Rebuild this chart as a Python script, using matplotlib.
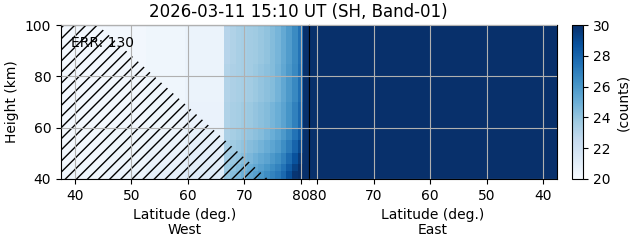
import numpy as np
import matplotlib
matplotlib.use('Agg')
import matplotlib.pyplot as plt

# West side: column edges (deg) and height band edges (km)
west_lat_edges = [37.5, 45.5, 52.5, 59.5, 66.5, 67.5, 68.5, 69.5, 70.5, 71.5,
                  72.5, 73.5, 74.5, 75.5, 76.5, 77.5, 78.5, 79.5, 80.5, 81.5]
height_edges = [40, 43, 46, 50, 55, 60, 70, 85, 100]

# counts, rows = height bands (bottom to top), columns = latitude cells
west_counts = [
    [20.4, 20.6, 20.9, 21.3, 24.0, 24.3, 24.6, 25.0, 25.3, 25.6, 26.0, 26.4, 26.8, 27.2, 27.8, 28.8, 29.8, 30.5, 31.0],
    [20.4, 20.5, 20.8, 21.1, 23.8, 24.1, 24.4, 24.7, 25.0, 25.3, 25.6, 26.0, 26.4, 26.8, 27.4, 28.3, 29.3, 30.2, 31.0],
    [20.3, 20.5, 20.7, 21.0, 23.6, 23.9, 24.1, 24.4, 24.6, 24.9, 25.2, 25.5, 25.9, 26.3, 26.9, 27.7, 28.7, 29.6, 31.0],
    [20.3, 20.4, 20.6, 20.9, 23.4, 23.7, 23.9, 24.1, 24.3, 24.5, 24.8, 25.1, 25.4, 25.8, 26.4, 27.1, 28.0, 29.0, 31.0],
    [20.3, 20.4, 20.5, 20.8, 23.3, 23.5, 23.7, 23.9, 24.0, 24.2, 24.4, 24.7, 25.0, 25.4, 25.9, 26.6, 27.4, 28.3, 31.0],
    [20.2, 20.3, 20.4, 20.7, 23.2, 23.4, 23.5, 23.7, 23.8, 24.0, 24.2, 24.4, 24.7, 25.0, 25.5, 26.1, 26.9, 27.8, 31.0],
    [20.2, 20.3, 20.4, 20.6, 23.1, 23.3, 23.4, 23.5, 23.6, 23.8, 24.0, 24.2, 24.4, 24.8, 25.3, 25.9, 26.6, 27.5, 31.0],
    [20.2, 20.3, 20.4, 20.6, 23.0, 23.2, 23.4, 23.5, 23.6, 23.7, 23.9, 24.1, 24.4, 24.7, 25.2, 25.8, 26.5, 27.4, 31.0],
]

# East side: saturated everywhere
east_lat_edges = [37.5, 81.5]
east_height_edges = [40, 100]
east_counts = [[31.0]]

# hatched (error) region: boundary latitude at given heights
hatch_heights = [40, 100]
hatch_lat = [74.2, 44.0]

err_value = 130
title = '2026-03-11 15:10 UT (SH, Band-01)'

fig = plt.figure(figsize=(6.31, 2.43), dpi=100)
ax_w = fig.add_axes([0.0967, 0.2634, 0.393, 0.6337])
ax_e = fig.add_axes([0.4897, 0.2634, 0.393, 0.6337])
cax = fig.add_axes([0.9065, 0.2634, 0.0175, 0.6337])

mesh = ax_w.pcolormesh(west_lat_edges, height_edges, np.array(west_counts),
                       cmap='Blues', vmin=20, vmax=30)
ax_e.pcolormesh(east_lat_edges, east_height_edges, np.array(east_counts),
                cmap='Blues', vmin=20, vmax=30)

ax_w.fill_betweenx(hatch_heights, 37.5, hatch_lat, facecolor='none',
                   edgecolor='black', hatch='///', linewidth=0)
ax_w.text(0.04, 0.93, f'ERR: {err_value}', transform=ax_w.transAxes,
          ha='left', va='top', fontsize=10)

for ax in (ax_w, ax_e):
    ax.set_ylim(40, 100)
    ax.set_xticks([40, 50, 60, 70, 80])
    ax.grid(True, color='#b0b0b0')
    ax.set_axisbelow(False)

ax_w.set_xlim(37.5, 81.5)
ax_e.set_xlim(81.5, 37.5)
ax_w.set_yticks([40, 60, 80, 100])
ax_e.set_yticks([40, 60, 80, 100])
ax_e.tick_params(left=False, labelleft=False)
ax_w.set_ylabel('Height (km)')
ax_w.set_xlabel('Latitude (deg.)\nWest', linespacing=1.1)
ax_e.set_xlabel('Latitude (deg.)\nEast', linespacing=1.1)

cb = fig.colorbar(mesh, cax=cax)
cb.set_ticks([20, 22, 24, 26, 28, 30])
cb.set_label('(counts)')

fig.text(0.472, 0.95, title, ha='center', va='center', fontsize=12)

fig.savefig('out.png', dpi=100)
